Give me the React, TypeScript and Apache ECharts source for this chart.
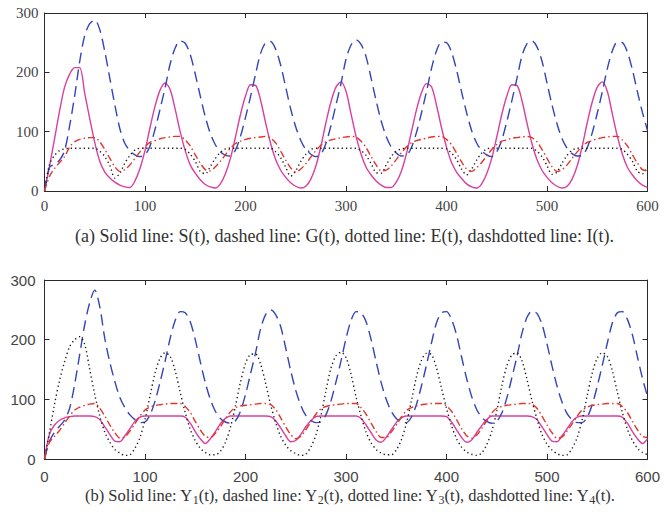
import React, { useEffect, useRef } from 'react';
import * as echarts from 'echarts';

// time grid (step 5) shared by all series
const T: number[] = Array.from({ length: 121 }, (_, i) => i * 5);
const X_TICKS = [0, 100, 200, 300, 400, 500, 600];
const Y_TICKS = [0, 100, 200, 300];

// (a) top panel
const S = [0,42,88,135,175,197,208,208,165,122,82,50,32,22,15,10,7,6,17,38,68,107,143,170,182,171,138,100,68,44,30,19,11,7,5,12,29,55,91,129,160,179,178,153,115,80,53,35,23,14,8,5,8,20,42,75,115,150,175,184,168,130,92,62,40,27,17,10,6,6,15,33,62,99,136,165,181,176,145,107,74,48,32,21,12,7,5,12,29,55,91,129,160,179,178,153,115,80,53,35,23,14,8,5,8,20,42,75,115,150,175,184,168,130,92,62,40,27,17,10,6];
const G = [0,40,45,52,68,110,160,218,262,282,288,272,235,190,145,105,80,68,61,58,61,76,104,138,174,214,241,253,249,230,197,160,125,97,78,66,60,59,69,92,124,159,197,232,250,252,239,212,175,138,108,85,70,62,58,62,80,110,145,181,222,246,255,247,226,190,152,118,92,74,64,59,60,73,98,131,167,206,236,251,250,234,204,167,132,102,81,68,61,58,66,86,117,152,189,227,248,253,243,219,182,145,113,88,72,63,59,60,73,98,131,167,206,236,251,250,234,204,167,132,102];
const E = [0,45,60,68,71,72,72,72,72,72,72,67,58,43,22,30,47,60,69,72,72,72,72,72,72,72,72,72,70,62,50,33,29,41,55,65,71,72,72,72,72,72,72,72,72,72,66,56,40,25,34,50,62,70,72,72,72,72,72,72,72,72,72,68,60,46,31,30,44,58,67,71,72,72,72,72,72,72,72,72,71,64,53,37,27,37,52,64,71,72,72,72,72,72,72,72,72,72,67,58,43,28,32,47,60,69,72,72,72,72,72,72,72,72,72,70,62,50,33,29,41];
const I = [0,25,38,48,58,74,83,87,89,90,90,83,70,55,41,33,36,44,55,66,75,82,85,88,90,91,92,92,86,76,61,47,36,34,41,50,61,72,80,84,87,89,90,91,92,89,81,67,52,39,32,37,46,57,68,77,83,86,88,90,91,92,91,84,73,58,44,34,35,42,53,64,74,81,85,87,89,91,92,92,87,78,64,49,37,33,39,48,59,70,78,84,86,89,90,91,92,90,83,70,55,41,33,36,44,55,66,75,82,85,88,90,91,92,92,86,76,61,47,36,34];

// (b) bottom panel
const Y1 = [0,42,57,65,69,71,72,72,72,72,71,66,54,41,30,29,39,51,63,70,72,72,72,72,72,72,72,72,70,60,46,34,26,34,46,59,68,72,72,72,72,72,72,72,72,71,64,52,39,29,31,41,54,64,71,72,72,72,72,72,72,72,72,68,57,44,32,28,36,49,61,69,72,72,72,72,72,72,72,72,71,62,49,36,28,32,44,56,66,72,72,72,72,72,72,72,72,71,66,54,41,30,29,39,51,63,70,72,72,72,72,72,72,72,72,70,60,46,34,26,34];
const Y2 = [0,30,45,55,65,85,125,175,225,262,283,255,202,162,130,103,86,74,66,61,62,74,97,129,164,202,232,247,245,230,200,163,128,100,80,68,62,60,64,80,108,143,178,218,242,250,242,222,186,148,115,90,73,65,61,62,74,97,129,164,202,232,247,245,230,200,163,128,100,80,68,62,61,70,91,122,157,194,228,245,247,234,208,171,135,105,83,70,63,60,63,77,102,136,171,210,237,248,244,226,193,156,122,95,76,66,61,61,70,91,122,157,194,228,245,247,234,208,171,135,105];
const Y3 = [0,45,92,132,163,188,200,205,192,150,108,72,45,28,16,10,6,7,18,36,66,106,144,169,178,172,148,112,78,50,31,18,11,7,7,13,28,53,89,129,160,175,176,159,127,91,61,38,23,14,9,6,8,20,40,72,114,152,173,179,170,142,104,72,45,27,16,10,7,7,15,32,59,97,137,165,177,175,153,119,85,56,34,20,12,8,6,10,24,46,80,122,156,174,178,165,134,98,67,41,25,15,9,6,7,18,36,66,106,144,169,178,172,148,112,78,50,31,18,11,7];
const Y4 = [0,28,38,48,60,72,82,87,90,92,93,85,72,57,44,35,37,47,59,72,82,87,90,91,92,93,93,93,88,78,63,49,38,36,43,54,67,79,86,89,90,91,92,93,93,91,83,69,54,41,34,38,49,62,75,84,88,90,91,92,93,93,93,86,75,60,46,36,36,45,57,70,81,86,89,91,92,93,93,93,89,80,66,51,39,35,40,51,64,77,85,88,90,91,92,93,93,92,85,72,57,44,35,37,47,59,72,82,87,90,91,92,93,93,93,88,78,63,49,38,36];

const CAPTION_A = '(a) Solid line: S(t), dashed line: G(t), dotted line: E(t), dashdotted line: I(t).';
const CAPTION_B = '(b) Solid line: Y{s|1}(t), dashed line: Y{s|2}(t), dotted line: Y{s|3}(t), dashdotted line: Y{s|4}(t).';

const SERIF = 'Liberation Serif';
const SANS = 'Liberation Sans';
const MAGENTA = '#d8409f';
const BLUE = '#3344b8';
const RED = '#e0352c';
const BLACK = '#1a1a1a';
const AXIS = '#2a2a2a';

function xAxisDef(gridIndex: number, position: 'bottom' | 'top', font: string, margin: number) {
  const show = position === 'bottom';
  return {
    type: 'value', gridIndex, position, min: 0, max: 600, interval: 100,
    axisLine: { show: true, onZero: false, lineStyle: { color: AXIS, width: 1 } },
    axisTick: { show: true, inside: true, length: 5, lineStyle: { color: AXIS } },
    splitLine: { show: false },
    axisLabel: {
      show, margin, fontFamily: font, fontSize: 15, color: '#444',
      customValues: X_TICKS,
    },
  };
}
function yAxisDef(gridIndex: number, position: 'left' | 'right', font: string, margin: number) {
  const show = position === 'left';
  return {
    type: 'value', gridIndex, position, min: 0, max: 300, interval: 100,
    axisLine: { show: true, onZero: false, lineStyle: { color: AXIS, width: 1 } },
    axisTick: { show: true, inside: true, length: 5, lineStyle: { color: AXIS } },
    splitLine: { show: false },
    axisLabel: { show, margin, fontFamily: font, fontSize: 15, color: '#444', customValues: Y_TICKS },
  };
}

function line(name: string, vals: number[], xi: number, yi: number, color: string, type: any, width = 1.4) {
  return {
    name, type: 'line', xAxisIndex: xi, yAxisIndex: yi,
    data: T.map((t, i) => [t, vals[i]]),
    showSymbol: false, smooth: 0.3, silent: true,
    lineStyle: { color, width, type },
  };
}

export default function App() {
  const ref = useRef<HTMLDivElement>(null);
  useEffect(() => {
    if (!ref.current) return;
    const chart = echarts.init(ref.current, undefined, { renderer: 'svg' });
    const DASH = [11, 6];
    const DOT = [1.3, 3];
    const DASHDOT = [7, 3, 1.5, 3];
    chart.setOption({
      animation: false,
      backgroundColor: '#fff',
      grid: [
        { left: 44.5, right: 16.5, top: 13, height: 178 },
        { left: 44.5, right: 16.5, top: 280, height: 179 },
      ],
      xAxis: [
        xAxisDef(0, 'bottom', SERIF, 7),
        xAxisDef(0, 'top', SERIF, 7),
        xAxisDef(1, 'bottom', SANS, 10),
        xAxisDef(1, 'top', SANS, 10),
      ],
      yAxis: [
        yAxisDef(0, 'left', SERIF, 6),
        yAxisDef(0, 'right', SERIF, 6),
        yAxisDef(1, 'left', SANS, 9),
        yAxisDef(1, 'right', SANS, 9),
      ],
      title: [
        {
          text: CAPTION_A, left: 75, top: 227, padding: 0,
          textStyle: { fontFamily: SERIF, fontSize: 18, fontWeight: 'normal', color: '#333' },
        },
        {
          text: CAPTION_B, left: 85, top: 484, padding: 0,
          textStyle: {
            fontFamily: SERIF, fontSize: 16.5, fontWeight: 'normal', color: '#333', lineHeight: 22,
            rich: { s: { fontFamily: SERIF, fontSize: 12, lineHeight: 12, verticalAlign: 'bottom', color: '#333' } },
          },
        },
      ],
      series: [
        line('S(t)', S, 0, 0, MAGENTA, 'solid'),
        line('G(t)', G, 0, 0, BLUE, DASH),
        line('E(t)', E, 0, 0, BLACK, DOT),
        line('I(t)', I, 0, 0, RED, DASHDOT),
        line('Y1(t)', Y1, 2, 2, MAGENTA, 'solid'),
        line('Y2(t)', Y2, 2, 2, BLUE, DASH),
        line('Y3(t)', Y3, 2, 2, BLACK, DOT),
        line('Y4(t)', Y4, 2, 2, RED, DASHDOT),
      ],
    });
    return () => chart.dispose();
  }, []);
  return <div ref={ref} style={{ position: 'absolute', left: 0, top: 0, width: 664, height: 512 }} />;
}
